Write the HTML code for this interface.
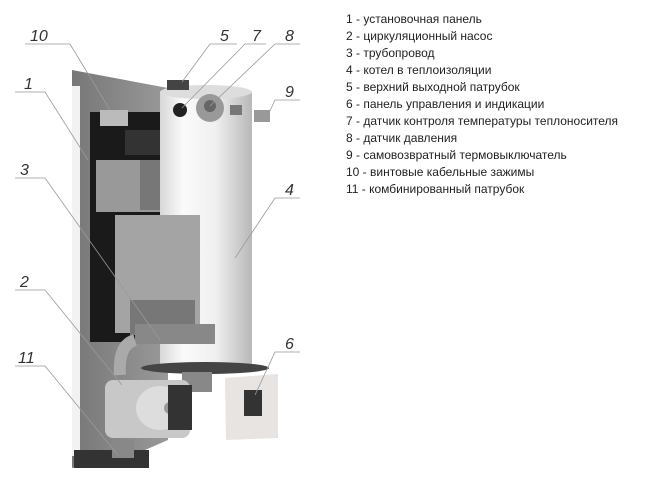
<!DOCTYPE html><html><head><meta charset="utf-8"><style>
body{margin:0;width:650px;height:482px;background:#fff;overflow:hidden;position:relative;font-family:"Liberation Sans",sans-serif}
#list{position:absolute;left:346px;top:11px;font-size:12px;line-height:17px;color:#222}
svg{position:absolute;left:0;top:0}
</style></head><body>
<svg width="650" height="482">
<defs>
<linearGradient id="cyl" x1="0" x2="1"><stop offset="0" stop-color="#d8d8d8"/><stop offset="0.25" stop-color="#fafafa"/><stop offset="0.6" stop-color="#f0f0f0"/><stop offset="1" stop-color="#b8b8b8"/></linearGradient>
<linearGradient id="pan" x1="0" x2="1"><stop offset="0" stop-color="#777"/><stop offset="1" stop-color="#999"/></linearGradient>
</defs>
<polygon points="72,70 168,88 168,440 145,450 72,468" fill="url(#pan)"/>
<rect x="72" y="86" width="8" height="370" fill="#f2f2f2"/>
<rect x="90" y="112" width="70" height="230" fill="#1a1a1a"/>
<rect x="96" y="160" width="88" height="52" fill="#999"/>
<rect x="140" y="160" width="44" height="50" fill="#777"/>
<rect x="125" y="130" width="35" height="25" fill="#333"/>
<rect x="100" y="110" width="28" height="16" fill="#bbb"/>
<rect x="74" y="450" width="75" height="18" fill="#333"/>
<rect x="160" y="92" width="92" height="275" fill="url(#cyl)"/>
<ellipse cx="206" cy="92" rx="46" ry="7" fill="#ddd"/>
<rect x="167" y="80" width="22" height="10" fill="#444"/>
<circle cx="180" cy="110" r="7" fill="#222"/>
<circle cx="210" cy="108" r="14" fill="#999"/>
<circle cx="210" cy="106" r="6" fill="#666"/>
<rect x="230" y="105" width="12" height="10" fill="#777"/>
<rect x="254" y="110" width="16" height="12" fill="#999"/>
<rect x="115" y="215" width="85" height="118" fill="#a4a4a4"/>
<rect x="130" y="300" width="65" height="35" fill="#777"/>
<rect x="135" y="324" width="80" height="20" fill="#888"/>
<path d="M135 340 Q118 345 120 375" stroke="#aaa" stroke-width="12" fill="none"/>
<ellipse cx="205" cy="368" rx="64" ry="6" fill="#444"/>
<rect x="182" y="372" width="30" height="20" fill="#888"/>
<rect x="105" y="380" width="85" height="58" rx="8" fill="#c8c8c8"/>
<ellipse cx="160" cy="408" rx="24" ry="22" fill="#ddd"/>
<circle cx="170" cy="408" r="6" fill="#999"/>
<rect x="168" y="385" width="24" height="45" fill="#333"/>
<rect x="112" y="440" width="22" height="18" fill="#888"/>
<polygon points="225,378 278,374 278,438 226,440" fill="#e8e4e2"/>
<rect x="244" y="390" width="18" height="26" fill="#333"/>
<g stroke="#999" stroke-width="0.8" fill="none">
<polyline points="25,44 70,44 110,110"/>
<polyline points="237,44 210,44 182,82"/>
<polyline points="266,44 245,44 182,108"/>
<polyline points="300,44 275,44 210,106"/>
<polyline points="300,100 275,100 268,115"/>
<polyline points="15,92 45,92 88,160"/>
<polyline points="15,178 45,178 160,340"/>
<polyline points="300,198 275,198 235,258"/>
<polyline points="15,290 45,290 122,385"/>
<polyline points="15,366 45,366 118,455"/>
<polyline points="300,352 275,352 255,395"/>
</g>
<g font-family="Liberation Sans" font-style="italic" font-size="16" fill="#333">
<text x="30" y="41">10</text><text x="220" y="41">5</text><text x="252" y="41">7</text><text x="285" y="41">8</text>
<text x="285" y="97">9</text><text x="24" y="89">1</text><text x="20" y="175">3</text><text x="285" y="195">4</text>
<text x="20" y="287">2</text><text x="18" y="363">11</text><text x="285" y="349">6</text>
</g>
</svg>
<div id="list">1 - установочная панель<br>2 - циркуляционный насос<br>3 - трубопровод<br>4 - котел в теплоизоляции<br>5 - верхний выходной патрубок<br>6 - панель управления и индикации<br>7 - датчик контроля температуры теплоносителя<br>8 - датчик давления<br>9 - самовозвратный термовыключатель<br>10 - винтовые кабельные зажимы<br>11 - комбинированный патрубок</div>
</body></html>
